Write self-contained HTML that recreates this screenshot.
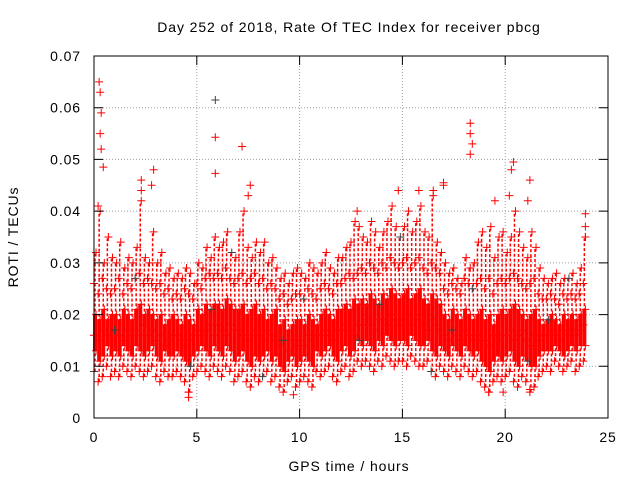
<!DOCTYPE html>
<html><head><meta charset="utf-8"><style>
body{margin:0;background:#fff}
svg{display:block;font-family:"Liberation Sans",sans-serif;font-size:14px;letter-spacing:0.9px}
</style></head><body>
<svg id="chart" width="640" height="480">
<rect width="640" height="480" fill="#fff"/>
<text x="349" y="32" text-anchor="middle">Day 252 of 2018, Rate Of TEC Index for receiver pbcg</text>
<text x="349" y="471" text-anchor="middle">GPS time / hours</text>
<text x="0" y="0" transform="translate(18,237) rotate(-90)" text-anchor="middle">ROTI / TECUs</text>
<g id="grid"></g>
<g id="pts"></g>
<g id="axes"></g>
</svg>
<script>
const xTicks=[0,5,10,15,20,25];
const yTicks=[0,0.01,0.02,0.03,0.04,0.05,0.06,0.07];
const yTickLabels=["0","0.01","0.02","0.03","0.04","0.05","0.06","0.07"];
const timeStep=0.2;
const level1=[9,7,8,10,8,9,8,10,9,8,10,9,8,9,10,8,7,9,8,8,9,8,7,5,8,9,10,9,8,10,9,8,10,9,7,8,9,7,6,8,7,8,9,7,8,6,5,7,8,6,7,8,7,6,9,8,9,10,8,7,9,10,8,9,11,10,11,10,9,11,10,12,11,10,11,11,10,12,11,10,10,11,9,8,10,9,8,10,9,8,10,9,8,9,7,6,5,7,8,7,8,9,7,6,8,7,5,6,8,9,10,9,11,10,9,10,11,9,10,11];
const level2=[13,11,12,14,12,13,12,14,13,12,14,13,12,13,14,12,11,13,12,12,13,12,11,10,12,13,14,13,12,14,13,12,14,13,11,12,13,11,10,12,11,12,13,11,12,10,9,11,12,10,11,12,11,10,13,12,13,14,12,11,13,14,12,13,15,14,15,14,13,15,14,16,15,14,15,15,14,16,15,14,14,15,13,12,14,13,12,14,13,12,14,13,12,13,11,10,9,11,12,11,12,13,11,10,12,11,10,10,12,13,13,13,14,13,12,13,14,13,14,14];
const level3=[16,15,17,16,15,17,16,15,17,16,17,16,18,16,17,15,16,14,15,16,16,15,14,15,16,17,16,17,18,16,18,17,16,18,17,17,16,15,16,17,16,15,17,16,15,14,15,13,15,14,15,14,16,15,16,16,17,16,15,17,17,18,17,16,18,18,19,18,17,19,19,18,20,19,18,19,20,18,19,20,18,17,19,18,17,16,15,17,16,15,17,16,15,16,15,15,14,16,15,16,16,17,15,16,17,15,14,16,15,16,16,17,16,15,17,16,17,16,17,18];
const level4=[20,19,21,19,20,20,19,21,20,19,21,22,20,21,20,19,20,18,19,20,19,18,20,19,18,21,20,22,21,22,22,21,23,22,21,21,22,20,21,22,20,21,19,20,21,18,19,17,18,19,19,18,20,19,18,20,21,20,19,21,21,22,21,23,22,23,22,24,23,22,24,23,25,24,23,24,25,23,24,25,23,22,24,23,22,20,19,21,20,19,21,20,19,20,21,19,20,18,20,21,20,21,22,21,20,19,20,21,19,18,19,20,19,18,20,19,20,19,20,21];
const level5=[26,24,27,25,24,25,27,24,26,25,27,28,26,27,26,25,26,24,25,23,24,23,25,24,23,26,25,27,28,27,28,27,29,27,26,27,28,26,27,28,26,27,25,26,25,23,24,22,23,24,24,23,25,24,23,25,26,25,24,26,26,27,28,27,28,29,28,30,29,28,30,29,31,30,29,30,31,29,30,31,29,28,30,29,28,25,24,26,25,24,27,26,25,26,27,25,27,24,26,27,26,27,28,27,26,25,26,27,24,23,23,24,23,22,24,23,24,23,24,26];
const level6=[32,40,30,35,31,30,34,29,31,30,33,42,31,30,36,30,32,28,29,27,28,27,29,28,26,30,29,33,31,35,33,34,36,32,31,36,40,33,31,34,32,34,30,31,29,27,28,26,28,29,28,27,30,29,28,30,32,29,28,31,31,33,34,38,37,35,34,38,36,33,36,38,41,37,35,37,40,36,38,41,36,35,43,34,32,30,28,29,27,26,31,29,30,34,36,33,37,31,35,36,32,35,40,36,33,31,36,33,29,27,26,27,28,26,27,27,28,26,29,35];
const spikeTimes=[0.25,0.3,0.35,0.3,0.35,0.45,0.2,2.3,2.3,2.9,2.8,5.9,5.9,5.9,7.2,7.6,7.5,12.8,14.8,15.8,16.5,17.0,17.0,18.3,18.3,18.4,18.3,19.5,20.4,20.3,20.2,21.2,21.1,23.9,23.9,23.9,4.6,4.6,9.7,19.2,21.2,19.9];
const spikeValues=[65,63,59,55,52,48.5,41,46,44,48,45,61.5,54.3,47.3,52.5,45,43,40,44,44,44,45.5,45,57,55,53,51,42,49.5,48,43,46,42,39.5,37,35,4,5,4.5,5,5.5,5];
const levels=[level1,level2,level3,level4,level5,level6];

const X0=94,X1=608,Y0=418,Y1=56;
const xs=t=>X0+(t/25)*(X1-X0);
const ys=v=>Y0-(v/0.07)*(Y0-Y1);
const NS="http://www.w3.org/2000/svg";
function mk(tag,parent,attrs){const e=document.createElementNS(NS,tag);for(const k in attrs)e.setAttribute(k,attrs[k]);parent.appendChild(e);return e;}
const grid=document.getElementById('grid'),axes=document.getElementById('axes'),pts=document.getElementById('pts');
yTicks.forEach((v,i)=>{
  const y=ys(v);
  if(i>0&&i<yTicks.length-1){const g=mk('line',grid,{x1:X0,x2:X1,y1:y,y2:y,stroke:'#a0a0a0','stroke-dasharray':'1,2'});
  
  }
  const tk=mk('path',axes,{d:`M${X0},${y}h9M${X1},${y}h-9`,stroke:'#000'});
  
  
  const t=mk('text',axes,{x:81,y:y+5,'text-anchor':'end'});t.textContent=yTickLabels[i];
  
  
});
xTicks.forEach((v,i)=>{
  const x=xs(v);
  if(i>0&&i<xTicks.length-1){const g=mk('line',grid,{x1:x,x2:x,y1:Y0,y2:Y1,stroke:'#a0a0a0','stroke-dasharray':'1,2'});
  
  }
  const tk=mk('path',axes,{d:`M${x},${Y0}v-9M${x},${Y1}v9`,stroke:'#000'});
  
  
  const t=mk('text',axes,{x:x,y:442,'text-anchor':'middle'});t.textContent=String(v);
  
  
});
const frame=mk('rect',axes,{x:X0,y:Y1,width:X1-X0,height:Y0-Y1,fill:'none',stroke:'#000'});


function plus(t,v,col){
  const x=xs(t),y=ys(v);
  const p=mk('path',pts,{d:`M${x-4},${y}h8M${x},${y-4}v8`,stroke:col,'stroke-width':1});
  
  
}
level1.forEach((v,i)=>{
  const x=xs(i*timeStep+0.05);
  const a=mk('line',pts,{x1:x,x2:x,y1:ys(v/1000),y2:ys(level6[i]/1000),stroke:'#ff0000','stroke-width':1.5,'stroke-dasharray':'3,2'});
  
  
  const b=mk('line',pts,{x1:x,x2:x,y1:ys(level2[i]/1000),y2:ys(level4[i]/1000),stroke:'#ff0000','stroke-width':4});
  
  
});
levels.forEach((arr,k)=>arr.forEach((v,i)=>plus(i*timeStep+(k%2)*0.1,v/1000,((i*7+k*3)%41===0)?'#404040':'#ff0000')));
spikeTimes.forEach((t,i)=>plus(t,spikeValues[i]/1000,i===11?'#404040':'#ff0000'));
</script>
</body></html>
